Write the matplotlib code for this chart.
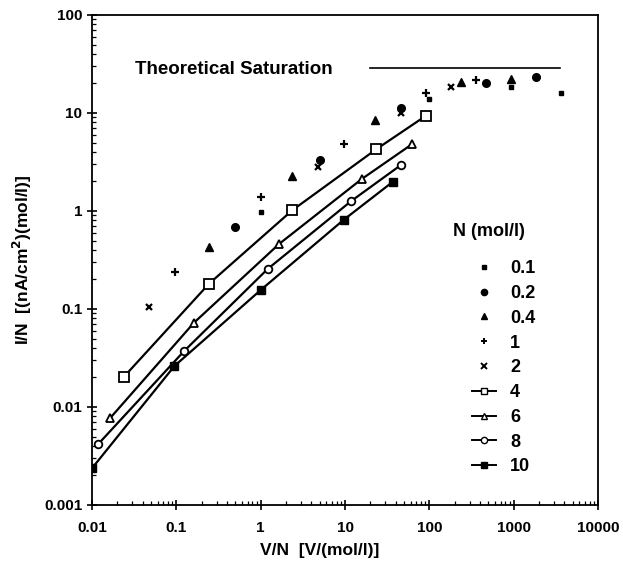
import matplotlib
matplotlib.use("Agg")
import matplotlib.pyplot as plt
from matplotlib.lines import Line2D
from matplotlib.ticker import FixedLocator, FixedFormatter, LogLocator, NullFormatter

plt.rcParams['font.family'] = ['Liberation Sans', 'DejaVu Sans']

# ---- data ----
x_01 = [1.0, 100, 930, 3660]
y_01 = [0.98, 13.8, 18.5, 15.9]
x_02 = [0.5, 5.0, 46, 472, 1850]
y_02 = [0.69, 3.3, 11.2, 20.4, 23.5]
x_04 = [0.244, 2.38, 22.8, 236, 933]
y_04 = [0.43, 2.29, 8.48, 20.9, 22.1]
x_1 = [0.096, 1.0, 9.6, 92, 359]
y_1 = [0.24, 1.38, 4.83, 16.1, 21.7]
x_2 = [0.048, 4.8, 46, 180]
y_2 = [0.106, 2.83, 9.9, 18.5]
x_4 = [0.024, 0.244, 2.38, 23.4, 91.6]
y_4 = [0.0204, 0.181, 1.02, 4.26, 9.4]
x_6 = [0.0164, 0.162, 1.65, 15.8, 62]
y_6 = [0.0077, 0.0725, 0.46, 2.12, 4.79]
x_8 = [0.0119, 0.124, 1.21, 11.8, 45.9]
y_8 = [0.0042, 0.0373, 0.256, 1.26, 2.94]
x_10 = [0.010, 0.095, 1.0, 9.6, 37]
y_10 = [0.00237, 0.0262, 0.156, 0.81, 1.99]

sat_x = [20, 3500]
sat_y = [28.6, 28.6]

legend_labels = ["0.1", "0.2", "0.4", "1", "2", "4", "6", "8", "10"]
xtick_vals = [0.01, 0.1, 1, 10, 100, 1000, 10000]
xtick_labels = ["0.01", "0.1", "1", "10", "100", "1000", "10000"]
ytick_vals = [0.001, 0.01, 0.1, 1, 10, 100]
ytick_labels = ["0.001", "0.01", "0.1", "1", "10", "100"]

fig = plt.figure(figsize=(6.23, 5.71), dpi=100)
ax = fig.add_axes([92/623, 1-505/571, (598-92)/623, (505-15)/571])
ax.set_xscale('log')
ax.set_yscale('log')
ax.set_xlim(0.01, 10000)
ax.set_ylim(0.001, 100)

k = 'black'
ax.plot(x_01, y_01, ls='none', marker='s', ms=3.5, color=k)
ax.plot(x_02, y_02, ls='none', marker='o', ms=5.5, color=k)
ax.plot(x_04, y_04, ls='none', marker='^', ms=6, color=k)
ax.plot(x_1, y_1, ls='none', marker='+', ms=6, mew=1.6, color=k)
ax.plot(x_2, y_2, ls='none', marker='x', ms=5, mew=1.6, color=k)
ax.plot(x_4, y_4, '-', marker='s', ms=6.5, mfc='white', mec=k, mew=1.3, color=k, lw=1.6)
ax.plot(x_6, y_6, '-', marker='^', ms=6, mfc='white', mec=k, mew=1.3, color=k, lw=1.6)
ax.plot(x_8, y_8, '-', marker='o', ms=5.5, mfc='white', mec=k, mew=1.3, color=k, lw=1.6)
ax.plot(x_10, y_10, '-', marker='s', ms=6, color=k, lw=1.6)

ax.plot(sat_x, sat_y, '-', color=k, lw=1.2)
ax.text(0.032, 28.1, "Theoretical Saturation", fontsize=13.5, fontweight='bold',
        va='center', ha='left')

# legend
handles = [
    Line2D([], [], ls='none', marker='s', ms=3, color=k),
    Line2D([], [], ls='none', marker='o', ms=4.5, color=k),
    Line2D([], [], ls='none', marker='^', ms=5, color=k),
    Line2D([], [], ls='none', marker='+', ms=5, mew=1.4, color=k),
    Line2D([], [], ls='none', marker='x', ms=4, mew=1.4, color=k),
    Line2D([], [], ls='-', marker='s', ms=5, mfc='white', mec=k, color=k, lw=1.4),
    Line2D([], [], ls='-', marker='^', ms=5, mfc='white', mec=k, color=k, lw=1.4),
    Line2D([], [], ls='-', marker='o', ms=4.5, mfc='white', mec=k, color=k, lw=1.4),
    Line2D([], [], ls='-', marker='s', ms=5, color=k, lw=1.4),
]
leg = ax.legend(handles, legend_labels, loc='upper left',
                bbox_to_anchor=((456-92)/506, 1-(244-15)/490), frameon=False,
                handlelength=1.3, handletextpad=0.8, labelspacing=0.43,
                prop={'weight': 'bold', 'size': 13})
ax.text((489-92)/506, 1-(232-15)/490, "N (mol/l)", transform=ax.transAxes,
        fontsize=13, fontweight='bold', ha='center', va='center')

# ticks
ax.xaxis.set_major_locator(FixedLocator(xtick_vals))
ax.xaxis.set_major_formatter(FixedFormatter(xtick_labels))
ax.yaxis.set_major_locator(FixedLocator(ytick_vals))
ax.yaxis.set_major_formatter(FixedFormatter(ytick_labels))
ax.xaxis.set_minor_locator(LogLocator(base=10, subs=range(2, 10), numticks=20))
ax.yaxis.set_minor_locator(LogLocator(base=10, subs=range(2, 10), numticks=20))
ax.xaxis.set_minor_formatter(NullFormatter())
ax.yaxis.set_minor_formatter(NullFormatter())
ax.tick_params(which='major', direction='inout', length=7, width=1.2, labelsize=11)
ax.tick_params(which='minor', direction='in', length=3, width=0.9)
ax.tick_params(axis='x', which='major', pad=8)
for lbl in ax.get_xticklabels() + ax.get_yticklabels():
    lbl.set_fontweight('bold')
for s in ax.spines.values():
    s.set_linewidth(1.3)

ax.set_xlabel("V/N  [V/(mol/l)]", fontsize=12.5, fontweight='bold')
ax.xaxis.set_label_coords(0.45, -45/490)
ax.xaxis.label.set_va('center')
ax.set_ylabel("I/N  [(nA/cm$^{\\mathbf{2}}$)(mol/l)]", fontsize=12.5, fontweight='bold')
ax.yaxis.set_label_coords(-70/506, 0.5)
ax.yaxis.label.set_va('center')

fig.savefig("out.png", dpi=100)
